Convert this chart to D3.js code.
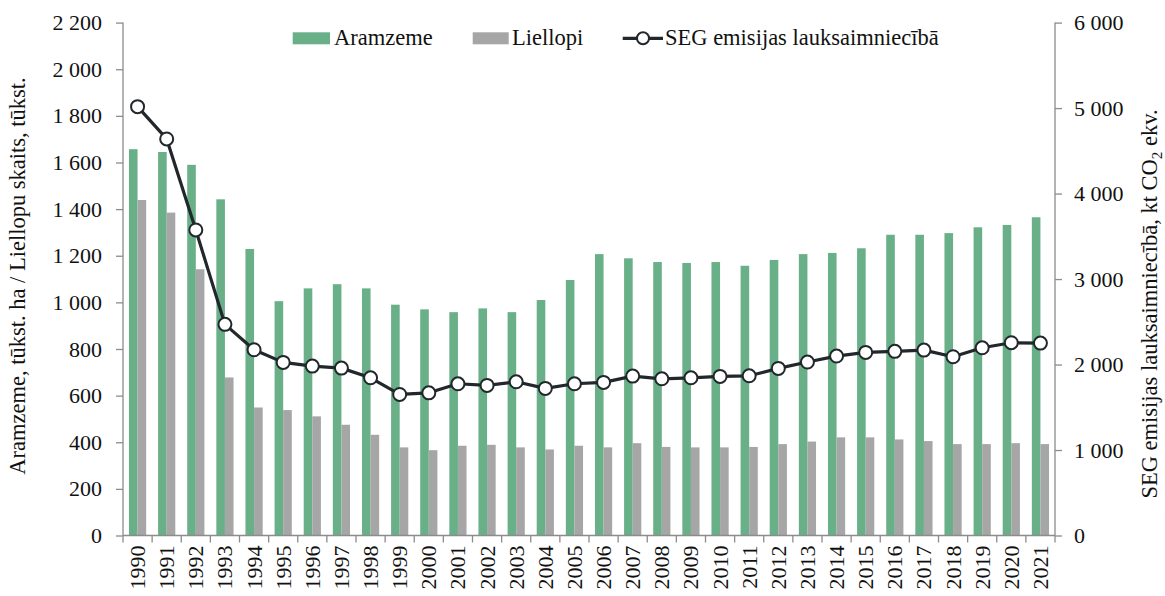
<!DOCTYPE html>
<html>
<head>
<meta charset="utf-8">
<script src="https://cdn.jsdelivr.net/npm/d3@7"></script>
<style>
  html, body { margin: 0; padding: 0; background: #fff; }
  svg { display: block; font-family: "Liberation Serif", "Times New Roman", serif; }
</style>
</head>
<body>
<svg id="chart" width="1165" height="596"></svg>
<script>
const years = ["1990","1991","1992","1993","1994","1995","1996","1997","1998","1999","2000","2001","2002","2003","2004","2005","2006","2007","2008","2009","2010","2011","2012","2013","2014","2015","2016","2017","2018","2019","2020","2021"];
const aramzeme = [1657,1645,1590,1442,1229,1005,1060,1078,1060,990,970,958,974,958,1010,1096,1207,1189,1173,1169,1173,1157,1182,1207,1212,1232,1290,1290,1297,1322,1332,1365];
const liellopi = [1439,1385,1142,678,549,538,511,475,432,378,366,385,389,378,369,385,378,396,380,378,378,380,392,403,421,421,412,405,392,392,396,392];
const seg = [5017,4639,3574,2470,2173,2025,1982,1958,1845,1650,1669,1775,1756,1798,1721,1775,1791,1865,1833,1845,1861,1868,1955,2029,2099,2142,2154,2169,2091,2196,2255,2251];
const leftTicks = [0,200,400,600,800,1000,1200,1400,1600,1800,2000,2200];
const rightTicks = [0,1000,2000,3000,4000,5000,6000];
const seriesNames = ["Aramzeme","Liellopi","SEG emisijas lauksaimniecībā"];
const leftTitle = "Aramzeme, tūkst. ha / Liellopu skaits, tūkst.";

const green = "#69b088", grey = "#a6a6a6", lineCol = "#22272b", axisCol = "#8c8c8c";
const svg = d3.select("#chart");
const L = 123, R = 1055, T = 22.6, B = 535.5;

const fmt = v => d3.format(",")(v).replace(/,/g, "\u00a0");

const x = d3.scaleBand().domain(years).range([L, R]).paddingInner(0).paddingOuter(0);
const yL = d3.scaleLinear().domain([0, 2200]).range([B, T]);
const yR = d3.scaleLinear().domain([0, 6000]).range([B, T]);
const bw = 8.6;

// bars
const g = svg.append("g");
g.selectAll(".ga").data(years).enter().append("rect")
  .attr("x", d => x(d) + x.bandwidth()/2 - bw)
  .attr("width", bw)
  .attr("y", (d,i) => yL(aramzeme[i]))
  .attr("height", (d,i) => B - yL(aramzeme[i]))
  .attr("fill", green);
g.selectAll(".gl").data(years).enter().append("rect")
  .attr("x", d => x(d) + x.bandwidth()/2)
  .attr("width", bw)
  .attr("y", (d,i) => yL(liellopi[i]))
  .attr("height", (d,i) => B - yL(liellopi[i]))
  .attr("fill", grey);

// left axis
const la = svg.append("g").attr("transform", `translate(${L},0)`)
  .call(d3.axisLeft(yL).tickValues(leftTicks).tickFormat(fmt).tickSize(7).tickPadding(14));
// right axis
const ra = svg.append("g").attr("transform", `translate(${R},0)`)
  .call(d3.axisRight(yR).tickValues(rightTicks).tickFormat(fmt).tickSize(7).tickPadding(12));
[la, ra].forEach(a => {
  a.select(".domain").attr("stroke", axisCol).attr("stroke-width", 1.3);
  a.selectAll(".tick line").attr("stroke", axisCol).attr("stroke-width", 1.3);
  a.selectAll("text").attr("font-size", 22).attr("fill", "#111").attr("font-family", "Liberation Serif");
});
la.select(".domain").attr("d", `M0,${B}V${T}`);
ra.select(".domain").attr("d", `M0,${B}V${T}`);

// x axis
const xa = svg.append("g").attr("transform", `translate(0,${B})`);
xa.append("line").attr("x1", L).attr("x2", R).attr("y1", 0).attr("y2", 0)
  .attr("stroke", axisCol).attr("stroke-width", 1.3);
xa.selectAll(".xt").data(years.concat(["end"])).enter().append("line")
  .attr("x1", (d,i) => i < years.length ? x(d) : R)
  .attr("x2", (d,i) => i < years.length ? x(d) : R)
  .attr("y1", 0).attr("y2", 7)
  .attr("stroke", axisCol).attr("stroke-width", 1.3);
xa.selectAll(".xl").data(years).enter().append("text")
  .attr("transform", d => `translate(${x(d) + x.bandwidth()/2 + 7.5},10) rotate(-90)`)
  .attr("text-anchor", "end")
  .attr("font-size", 22)
  .attr("fill", "#111")
  .text(d => d);

// line
const line = d3.line().x((d,i) => x(years[i]) + x.bandwidth()/2).y(d => yR(d));
svg.append("path").datum(seg).attr("d", line)
  .attr("fill", "none").attr("stroke", lineCol).attr("stroke-width", 3.2).attr("stroke-linejoin", "round");
svg.selectAll(".pt").data(seg).enter().append("circle")
  .attr("cx", (d,i) => x(years[i]) + x.bandwidth()/2)
  .attr("cy", d => yR(d))
  .attr("r", 6.5)
  .attr("fill", "#fff").attr("stroke", lineCol).attr("stroke-width", 2);

// axis titles
svg.append("text")
  .attr("transform", `translate(25,276) rotate(-90)`)
  .attr("text-anchor", "middle").attr("font-size", 22.5).attr("fill", "#111")
  .text(leftTitle);
const rt = svg.append("text")
  .attr("transform", `translate(1157,304) rotate(-90)`)
  .attr("text-anchor", "middle").attr("font-size", 22.5).attr("fill", "#111");
rt.append("tspan").text("SEG emisijas lauksaimniecībā, kt CO");
rt.append("tspan").attr("font-size", 15).attr("dy", 5).text("2");
rt.append("tspan").attr("dy", -5).text(" ekv.");

// legend
const lg = svg.append("g");
lg.append("rect").attr("x", 292.7).attr("y", 32.3).attr("width", 37.3).attr("height", 12).attr("fill", green);
lg.append("text").attr("x", 334).attr("y", 45).attr("font-size", 22.5).attr("fill", "#111").text(seriesNames[0]);
lg.append("rect").attr("x", 472.7).attr("y", 32.3).attr("width", 36).attr("height", 12).attr("fill", grey);
lg.append("text").attr("x", 512).attr("y", 45).attr("font-size", 22.5).attr("fill", "#111").text(seriesNames[1]);
lg.append("line").attr("x1", 622.7).attr("x2", 663).attr("y1", 38.3).attr("y2", 38.3)
  .attr("stroke", lineCol).attr("stroke-width", 3.2);
lg.append("circle").attr("cx", 643).attr("cy", 38.3).attr("r", 6).attr("fill", "#fff")
  .attr("stroke", lineCol).attr("stroke-width", 2);
lg.append("text").attr("x", 665).attr("y", 45).attr("font-size", 22.5).attr("fill", "#111").text(seriesNames[2]);
</script>
</body>
</html>
